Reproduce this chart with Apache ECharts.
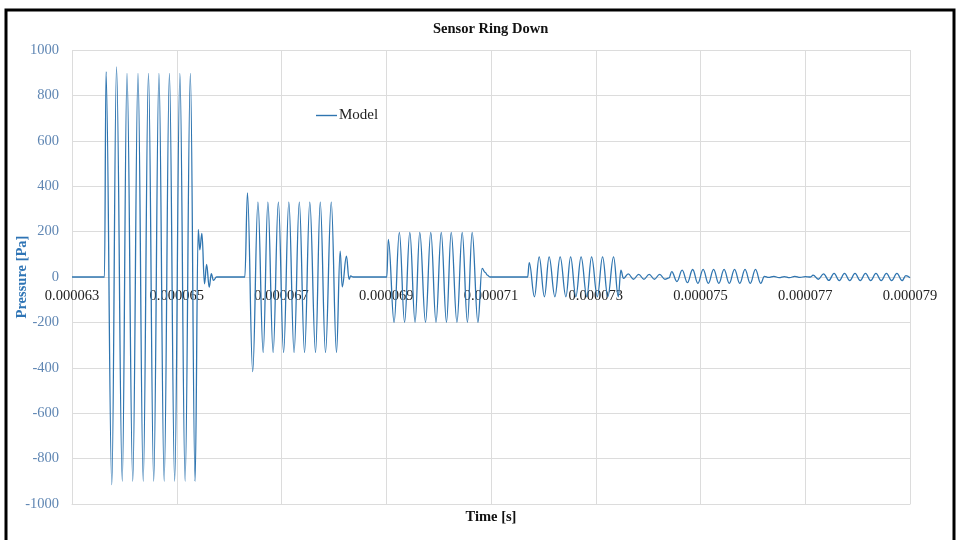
<!DOCTYPE html>
<html>
<head>
<meta charset="utf-8">
<script src="https://cdn.jsdelivr.net/npm/echarts@6/dist/echarts.min.js"></script>
<style>
  html, body { margin: 0; padding: 0; background: #fff; }
  #chart { width: 960px; height: 540px; }
</style>
</head>
<body>
<div id="chart"></div>
<script>
// Time in microseconds, pressure in Pa. Each burst carries its own ring-down tail.
const burst1 = [
  [63.00, 0], [63.62, 0], [63.65, 905], [63.76, -915], [63.85, 926], [63.96, -900],
  [64.05, 897], [64.16, -900], [64.26, 897], [64.36, -900], [64.46, 897], [64.56, -900],
  [64.66, 897], [64.76, -900], [64.86, 897], [64.96, -900], [65.06, 897], [65.16, -900],
  [65.26, 897], [65.35, -900],
  [65.41, 210], [65.44, 120], [65.48, 192], [65.53, -30], [65.57, 55], [65.62, -45],
  [65.66, 15], [65.70, -15], [65.76, 0]
];
const burst2 = [
  [66.30, 0], [66.35, 371], [66.45, -417], [66.55, 330], [66.65, -333], [66.74, 330],
  [66.84, -333], [66.94, 330], [67.04, -333], [67.14, 330], [67.24, -333], [67.34, 330],
  [67.44, -333], [67.54, 330], [67.65, -333], [67.74, 330], [67.84, -333], [67.95, 330],
  [68.05, -333],
  [68.12, 114], [68.16, -43], [68.24, 92], [68.29, -10], [68.32, 5], [68.37, 0]
];
const burst3 = [
  [69.01, 0], [69.04, 166], [69.15, -200], [69.25, 197], [69.35, -200], [69.45, 197],
  [69.55, -200], [69.64, 197], [69.75, -200], [69.85, 197], [69.95, -200], [70.05, 197],
  [70.15, -200], [70.24, 197], [70.35, -200], [70.45, 197], [70.55, -200], [70.64, 197],
  [70.75, -200],
  [70.83, 38], [70.89, 20], [70.93, 8], [70.98, 0]
];
const burst4 = [
  [71.70, 0], [71.73, 63], [71.83, -87], [71.92, 89], [72.02, -87], [72.11, 89],
  [72.22, -87], [72.32, 89], [72.43, -87], [72.52, 89], [72.62, -87], [72.72, 89],
  [72.83, -87], [72.92, 89], [73.03, -87], [73.13, 89], [73.23, -87], [73.34, 89],
  [73.43, -87],
  [73.48, 30], [73.53, -6], [73.62, 14], [73.72, -10], [73.82, 12], [73.92, -10],
  [74.02, 12], [74.12, -10], [74.22, 12], [74.32, -10]
];
const burst5 = [
  [74.40, -4], [74.45, 24], [74.55, -20], [74.65, 30], [74.75, -25], [74.85, 33],
  [74.95, -28], [75.05, 34], [75.15, -28], [75.25, 34], [75.35, -28], [75.45, 34],
  [75.55, -28], [75.65, 34], [75.75, -28], [75.85, 34], [75.95, -28], [76.05, 34],
  [76.15, -28],
  [76.22, 3], [76.30, -2], [76.40, 3], [76.50, -3], [76.60, 2], [76.70, -3],
  [76.80, 3], [76.90, -2], [77.00, 2]
];
const burst6 = [
  [77.10, 0], [77.15, 8], [77.25, -10], [77.35, 14], [77.45, -15], [77.55, 16],
  [77.65, -16], [77.75, 16], [77.85, -16], [77.95, 16], [78.05, -16], [78.15, 16],
  [78.25, -16], [78.35, 16], [78.45, -16], [78.55, 16], [78.65, -16], [78.75, 16],
  [78.85, -16], [78.92, 6], [79.00, -3]
];

// Axis range in microseconds; ticks every 2 us starting at the left edge.
const timeStartUs = 63;
const timeEndUs = 79;
const timeStepUs = 2;
const pressureTicks = [-1000, -800, -600, -400, -200, 0, 200, 400, 600, 800, 1000];

const serif = "'Liberation Serif', 'Times New Roman', serif";
const lineColor = '#2f75b0';
const gridColor = '#dcdcdc';

// The x axis runs on an offset from the start time so ticks land on odd microseconds.
const modelData = [burst1, burst2, burst3, burst4, burst5, burst6]
  .flat()
  .map(([t, p]) => [t - timeStartUs, p]);

const gridTop = 50;
const gridBottom = 36;
const chartHeight = 540;
// Time labels sit just under the zero-pressure line, inside the plot.
const zeroLineY = gridTop + (chartHeight - gridTop - gridBottom) / 2;
const labelMargin = zeroLineY + 12 - (chartHeight - gridBottom);

const chart = echarts.init(document.getElementById('chart'), null, { renderer: 'canvas' });

chart.setOption({
  backgroundColor: '#ffffff',
  animation: false,
  title: {
    text: 'Sensor Ring Down',
    left: 428,
    top: 17,
    textStyle: { fontFamily: serif, fontSize: 14.5, fontWeight: 'bold', color: '#111' }
  },
  legend: {
    data: ['Model'],
    left: 311,
    top: 103,
    icon: 'rect',
    itemWidth: 21,
    itemHeight: 1.4,
    itemGap: 0,
    textStyle: { fontFamily: serif, fontSize: 15, color: '#222', padding: [0, 0, 0, -3] }
  },
  grid: {
    left: 72, right: 50, top: gridTop, bottom: gridBottom,
    containLabel: false,
    outerBoundsMode: 'none'
  },
  xAxis: {
    type: 'value',
    min: 0,
    max: timeEndUs - timeStartUs,
    interval: timeStepUs,
    name: 'Time [s]',
    nameLocation: 'middle',
    nameGap: 6,
    nameMoveOverlap: false,
    nameTextStyle: { fontFamily: serif, fontSize: 14.5, fontWeight: 'bold', color: '#111' },
    axisLine: { onZero: false, lineStyle: { color: gridColor, width: 1 } },
    axisTick: { show: false },
    axisLabel: {
      margin: labelMargin,
      fontFamily: serif,
      fontSize: 14.5,
      color: '#222',
      formatter: v => ((timeStartUs + v) * 1e-6).toFixed(6)
    },
    splitLine: { show: true, lineStyle: { color: gridColor, width: 1 } }
  },
  yAxis: {
    type: 'value',
    min: pressureTicks[0],
    max: pressureTicks[pressureTicks.length - 1],
    interval: pressureTicks[1] - pressureTicks[0],
    name: 'Pressure [Pa]',
    nameLocation: 'middle',
    nameGap: 42,
    nameMoveOverlap: false,
    nameTextStyle: { fontFamily: serif, fontSize: 14.5, fontWeight: 'bold', color: '#2e74b5' },
    axisLine: { show: false },
    axisTick: { show: false },
    axisLabel: {
      margin: 13, fontFamily: serif, fontSize: 14.5, color: '#5f86b3',
      formatter: v => String(v)
    },
    splitLine: { show: true, lineStyle: { color: gridColor, width: 1 } }
  },
  series: [{
    name: 'Model',
    type: 'line',
    data: modelData,
    symbol: 'none',
    smooth: 0.4,
    smoothMonotone: 'x',
    lineStyle: { color: lineColor, width: 1.3 },
    itemStyle: { color: lineColor },
    z: 3
  }],
  graphic: [{
    type: 'rect',
    shape: { x: 6, y: 10, width: 948, height: 600 },
    style: { fill: 'none', stroke: '#000', lineWidth: 3 },
    silent: true,
    z: 100
  }]
});
</script>
</body>
</html>
